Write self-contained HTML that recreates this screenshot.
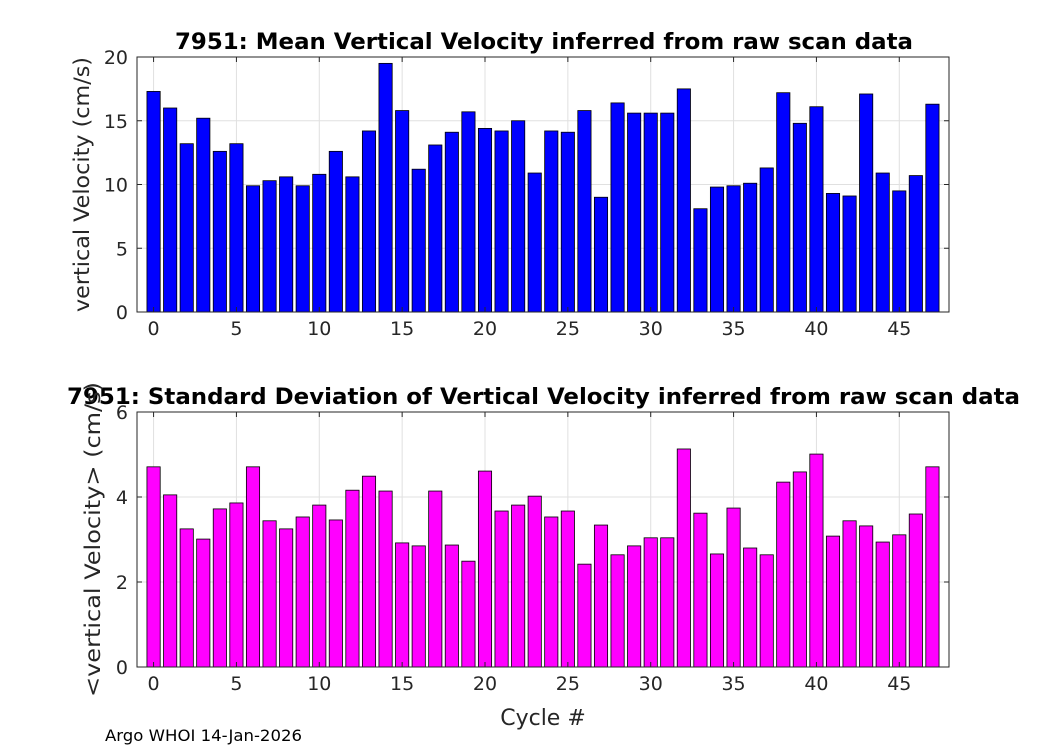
<!DOCTYPE html>
<html><head><meta charset="utf-8"><style>
body{margin:0;background:#fff;width:1050px;height:750px;overflow:hidden}
svg{font-family:"DejaVu Sans","Liberation Sans",sans-serif}
</style></head><body>
<svg id="c" width="1050" height="750" xmlns="http://www.w3.org/2000/svg"></svg>
<script>
const cycles=[...Array(48).keys()];
const meanVel=[17.3,16.0,13.2,15.2,12.6,13.2,9.9,10.3,10.6,9.9,10.8,12.6,10.6,14.2,19.5,15.8,11.2,13.1,14.1,15.7,14.4,14.2,15.0,10.9,14.2,14.1,15.8,9.0,16.4,15.6,15.6,15.6,17.5,8.1,9.8,9.9,10.1,11.3,17.2,14.8,16.1,9.3,9.1,17.1,10.9,9.5,10.7,16.3];
const stdVel=[4.71,4.05,3.25,3.01,3.72,3.86,4.71,3.44,3.25,3.53,3.81,3.46,4.16,4.49,4.14,2.92,2.85,4.14,2.87,2.49,4.61,3.67,3.81,4.02,3.53,3.67,2.42,3.34,2.64,2.85,3.04,3.04,5.13,3.62,2.66,3.74,2.80,2.64,4.35,4.59,5.01,3.08,3.44,3.32,2.94,3.11,3.60,4.71];
const xTicks=[0,5,10,15,20,25,30,35,40,45];
const yTicksTop=[0,5,10,15,20];
const yTicksBot=[0,2,4,6];
const NS="http://www.w3.org/2000/svg";
const svg=document.getElementById('c');
function el(t,a,txt){const e=document.createElementNS(NS,t);for(const k in a)e.setAttribute(k,a[k]);if(txt!==undefined)e.textContent=txt;svg.appendChild(e);return e;}
function panel(p){
 const L=137,R=949,T=p.top,B=p.bot;
 const xs=v=>L+(v+1)/49*(R-L);
 const ys=v=>B-(v/p.ymax)*(B-T);
 const bg=el('rect',{x:L,y:T,width:R-L,height:B-T,fill:'#fff'});
 
 
 xTicks.forEach(t=>{const g=el('line',{x1:xs(t),x2:xs(t),y1:T,y2:B,stroke:'#e0e0e0','stroke-width':1});
  });
 p.yt.forEach(t=>{const g=el('line',{x1:L,x2:R,y1:ys(t),y2:ys(t),stroke:'#e0e0e0','stroke-width':1});
  });
 p.data.forEach((v,i)=>{const x=cycles[i];const w=(xs(0.4)-xs(-0.4));
  const r=el('rect',{x:xs(x)-w/2,y:ys(v),width:w,height:B-ys(v),fill:p.color,stroke:'#000','stroke-width':0.8});
  });
 const f=el('rect',{x:L,y:T,width:R-L,height:B-T,fill:'none',stroke:'#262626','stroke-width':1});
 
 xTicks.forEach(t=>{el('line',{x1:xs(t),x2:xs(t),y1:B,y2:B-5,stroke:'#262626'});el('line',{x1:xs(t),x2:xs(t),y1:T,y2:T+5,stroke:'#262626'});
  const l=el('text',{x:xs(t),y:B+23,'text-anchor':'middle','font-size':19,fill:'#262626'},t);
  });
 p.yt.forEach(t=>{el('line',{x1:L,x2:L+5,y1:ys(t),y2:ys(t),stroke:'#262626'});el('line',{x1:R,x2:R-5,y1:ys(t),y2:ys(t),stroke:'#262626'});
  const l=el('text',{x:L-9,y:ys(t)+7,'text-anchor':'end','font-size':19,fill:'#262626'},t);
  });
 const ti=el('text',{x:p.tx,y:T-8,'font-size':22,'font-weight':'bold',fill:'#000',textLength:p.tl,lengthAdjust:'spacingAndGlyphs'},p.title);
 
 const yl=el('text',{x:0,y:0,'text-anchor':'middle','font-size':21,fill:'#262626',textLength:p.yll,lengthAdjust:'spacingAndGlyphs',transform:`translate(${p.ylx},${(T+B)/2}) rotate(-90)`},p.ylabel);
 
}
panel({name:'mean-panel',top:57,bot:312,ymax:20,yt:yTicksTop,data:meanVel,color:'#0000ff',title:'7951: Mean Vertical Velocity inferred from raw scan data',tx:175,tl:738,ylabel:'vertical Velocity (cm/s)',ylx:89,yll:255});
panel({name:'std-panel',top:412,bot:667,ymax:6,yt:yTicksBot,data:stdVel,color:'#ff00ff',title:'7951: Standard Deviation of Vertical Velocity inferred from raw scan data',tx:67,tl:953,ylabel:'<vertical Velocity> (cm/s)',ylx:100,yll:315});
const xl=el('text',{x:543,y:725,'text-anchor':'middle','font-size':22,fill:'#262626'},'Cycle #');

const ft=el('text',{x:105,y:741,'font-size':16,fill:'#000',textLength:197,lengthAdjust:'spacingAndGlyphs'},'Argo WHOI 14-Jan-2026');

</script>
</body></html>
